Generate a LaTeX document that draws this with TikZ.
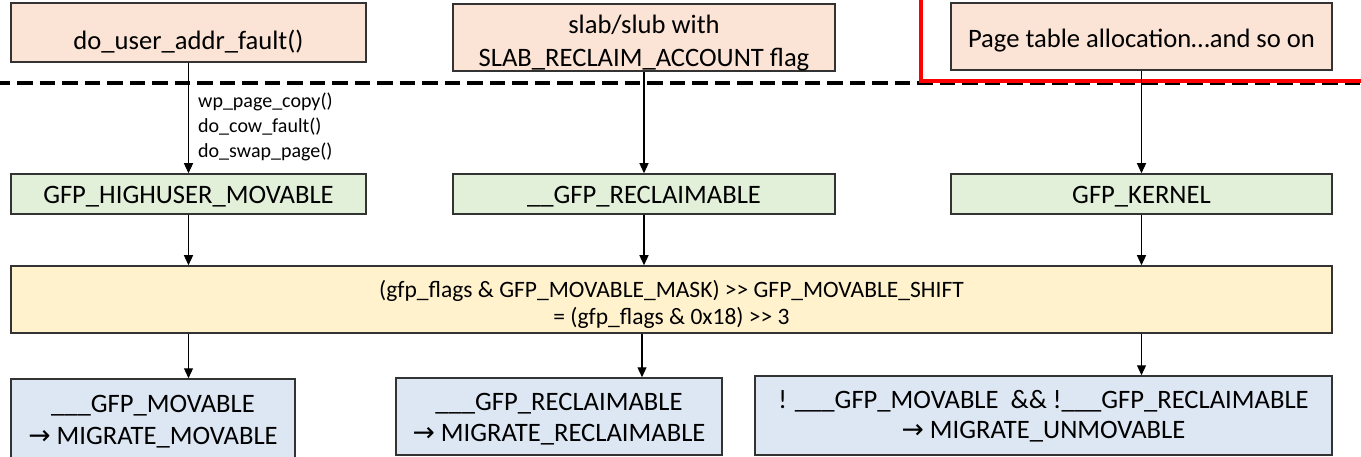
\documentclass[tikz,border=0pt]{standalone}
\usepackage{fontspec}
\setmainfont{Carlito}[Ligatures=TeXOff]
\newfontfamily\symfont{DejaVu Sans}
\usetikzlibrary{arrows.meta}

\definecolor{peach}{HTML}{FBE3D5}
\definecolor{leaf}{HTML}{E2EFD9}
\definecolor{cream}{HTML}{FFF2CC}
\definecolor{sky}{HTML}{DDE7F4}
\definecolor{edge}{HTML}{333333}

\newcommand{\rarr}{{\symfont\char"2192}}

% text height/depth fix where the last baseline sits inside each box
\tikzset{
  box/.style={draw=edge, line width=1.5pt, inner sep=0pt, align=center, text depth=0pt,
              font=\fontsize{26.6}{33}\selectfont},
  srcbox/.style={box, fill=peach},
  flagbox/.style={box, fill=leaf, text height=20pt},
  calcbox/.style={box, fill=cream, font=\fontsize{23.5}{27}\selectfont},
  typebox/.style={box, fill=sky, font=\fontsize{26.6}{31.5}\selectfont},
  callnote/.style={inner sep=0pt, align=left, font=\fontsize{20}{25}\selectfont},
  flow/.style={draw=black, line width=1.2pt, -{Triangle[length=10pt,width=9pt]}},
  divider/.style={draw=black, line width=3.2pt, dash pattern=on 15.5pt off 7pt, dash phase=5.5pt},
  highlight/.style={draw=red, line width=3.2pt},
}

\begin{document}
\begin{tikzpicture}[x=1pt,y=-1pt]
\useasboundingbox (0,0) rectangle (1361,457);

% user / kernel separator
\draw[divider] (0,83) -- (1361,83);
% highlight frame around the kernel allocation source
\draw[highlight] (921,-2) -- (921,81) -- (1363,81);

% allocation sources
\node[srcbox, minimum width=355pt, minimum height=59pt, text height=35pt] (fault) at (188.5,32.5)
  {do\_user\_addr\_fault()};
\node[srcbox, minimum width=382pt, minimum height=67pt, text height=59pt] (slab) at (644,37.5)
  {slab/slub with\\SLAB\_RECLAIM\_ACCOUNT flag};
\node[srcbox, minimum width=381pt, minimum height=67pt, text height=23pt] (ptab) at (1141.5,36.5)
  {Page table allocation…and so on};

% gfp flags
\node[flagbox, minimum width=355pt, minimum height=40pt] (high) at (188.5,194) {GFP\_HIGHUSER\_MOVABLE};
\node[flagbox, minimum width=382pt, minimum height=40pt] (recl) at (644,194) {\_\_GFP\_RECLAIMABLE};
\node[flagbox, minimum width=381pt, minimum height=40pt] (kern) at (1141.5,194) {GFP\_KERNEL};

% migrate type computation
\node[calcbox, minimum width=1321pt, minimum height=67pt, text height=49pt] (calc) at (671.5,299.5)
  {(gfp\_flags \& GFP\_MOVABLE\_MASK) >> GFP\_MOVABLE\_SHIFT\\= (gfp\_flags \& 0x18) >> 3};

% resulting migrate types
\node[typebox, minimum width=284pt, minimum height=84pt, text height=46pt] (mov) at (153,421)
  {\_\_\_GFP\_MOVABLE\\\rarr{} MIGRATE\_MOVABLE};
\node[typebox, minimum width=326pt, minimum height=77pt, text height=50pt] (rec) at (559,416.5)
  {\_\_\_GFP\_RECLAIMABLE\\\rarr{} MIGRATE\_RECLAIMABLE};
\node[typebox, minimum width=577pt, minimum height=79pt, text height=46pt,
      font=\fontsize{26.6}{30}\selectfont] (unm) at (1043.5,415.5)
  {! \_\_\_GFP\_MOVABLE\ \ \&\& !\_\_\_GFP\_RECLAIMABLE\\\rarr{} MIGRATE\_UNMOVABLE};

% call sites on the fault path
\node[callnote, anchor=north west] (calls) at (198,93)
  {wp\_page\_copy()\\do\_cow\_fault()\\do\_swap\_page()};

% connectors
\draw[flow] (fault) -- (high);
\draw[flow] (slab) -- (recl);
\draw[flow] (ptab) -- (kern);
\draw[flow] (high) -- (calc.north -| high.south);
\draw[flow] (recl) -- (calc.north -| recl.south);
\draw[flow] (kern) -- (calc.north -| kern.south);
\draw[flow] (calc.south -| high.south) -- (mov.north -| high.south);
\draw[flow] (calc.south -| 642,0) -- (rec.north -| 642,0);
\draw[flow] (calc.south -| kern.south) -- (unm.north -| kern.south);
\end{tikzpicture}
\end{document}
